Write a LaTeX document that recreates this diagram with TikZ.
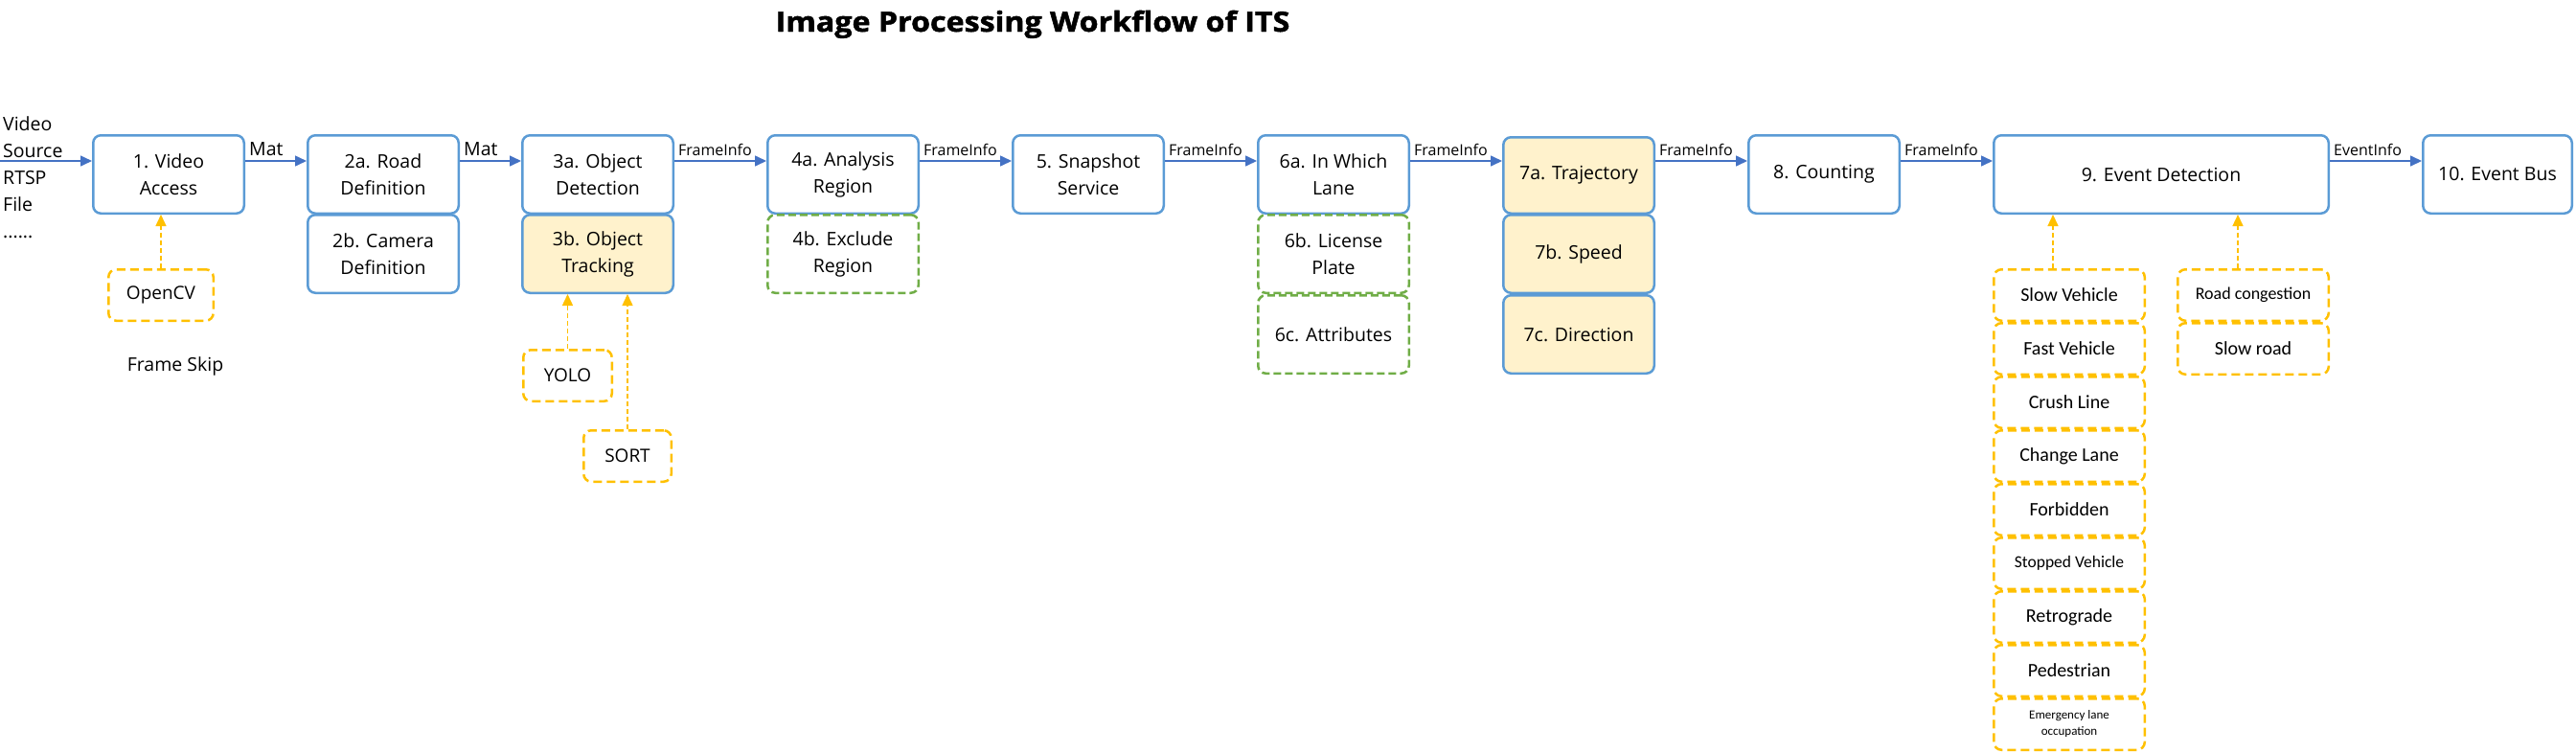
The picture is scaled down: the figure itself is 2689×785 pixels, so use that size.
\documentclass[tikz,border=0pt]{standalone}
\usepackage{fontspec}
\usepackage{graphicx}
\setmainfont{Open Sans}
\newfontfamily\calib{Carlito}
\newfontfamily\titlefont{Open Sans}[FakeBold=1.6]
\usetikzlibrary{arrows.meta}
\definecolor{bbord}{HTML}{5B9BD5}
\definecolor{barrow}{HTML}{4472C4}
\definecolor{yfill}{HTML}{FFF2CC}
\definecolor{ydash}{HTML}{FFC000}
\definecolor{gdash}{HTML}{70AD47}
\begin{document}
\begin{tikzpicture}[x=1pt,y=-1pt,
  box/.style={draw=bbord, line width=2.5pt, rounded corners=8pt, minimum width=157.5pt, minimum height=81.5pt, align=center, inner sep=2pt, font=\fontsize{19.5}{28}\selectfont},
  ybox/.style={box, fill=yfill},
  gbox/.style={box, draw=gdash, dash pattern=on 8pt off 4pt},
  dbox/.style={draw=ydash, line width=2.5pt, rounded corners=8pt, dash pattern=on 9pt off 5pt, align=center, inner sep=0pt, font=\fontsize{19}{24}\selectfont},
  ev/.style={dbox, minimum width=157.5pt, minimum height=53.5pt, font=\calib\fontsize{20}{24}\selectfont},
  flow/.style={draw=barrow, line width=1.5pt, -{Triangle[length=12pt,width=11pt]}},
  dflow/.style={draw=ydash, line width=1.5pt, dash pattern=on 5pt off 3pt, -{Triangle[length=12pt,width=11pt]}},
  lab/.style={anchor=base west, inner sep=0pt, font=\fontsize{16}{19}\selectfont},
  plain/.style={inner sep=0pt, font=\fontsize{19.5}{28}\selectfont},
]
\useasboundingbox (0,0) rectangle (2689,785);

% title
\node[anchor=base, inner sep=0pt, font=\titlefont\bfseries\fontsize{29}{34}\selectfont] (title) at (1078,33) {\scalebox{1.11}[1]{Image Processing Workflow of ITS}};

% source text
\node[plain, anchor=west, align=left] (srctxt) at (3,185) {Video\\Source\\RTSP\\File\\......};

% main boxes
\node[box] (b1) at (176,182) {1. Video\\Access};
\node[box] (b2a) at (400,182) {2a. Road\\Definition};
\node[box] (b2b) at (400,265) {2b. Camera\\Definition};
\node[box] (b3a) at (624,182) {3a. Object\\Detection};
\node[ybox] (b3b) at (624,265) {3b. Object\\Tracking};
\node[box] (b4a) at (880,182) {4a. Analysis\\Region};
\node[gbox] (b4b) at (880,265) {4b. Exclude\\Region};
\node[box] (b5) at (1136,182) {5. Snapshot\\Service};
\node[box] (b6a) at (1392,182) {6a. In Which\\Lane};
\node[gbox] (b6b) at (1392,265) {6b. License\\Plate};
\node[gbox] (b6c) at (1392,349) {6c. Attributes};
\node[ybox, minimum height=79.5pt] (b7a) at (1648,183) {7a. Trajectory};
\node[ybox] (b7b) at (1648,265) {7b. Speed};
\node[ybox] (b7c) at (1648,349) {7c. Direction};
\node[box] (b8) at (1904,182) {8. Counting};
\node[box, minimum width=349.5pt] (b9) at (2256,182) {9. Event Detection};
\node[box, minimum width=155.5pt] (b10) at (2607,182) {10. Event Bus};

% helper boxes
\node[dbox, minimum width=109.5pt, minimum height=53.5pt] (opencv) at (168,308) {OpenCV};
\node[plain, anchor=base] (fskip) at (183,387) {Frame Skip};
\node[dbox, minimum width=92.5pt, minimum height=53.5pt] (yolo) at (592.5,392) {YOLO};
\node[dbox, minimum width=91.5pt, minimum height=53.5pt] (sort) at (655,476) {SORT};

% event boxes
\node[ev] (e1) at (2160,308) {Slow Vehicle};
\node[ev] (e2) at (2160,364) {Fast Vehicle};
\node[ev] (e3) at (2160,420) {Crush Line};
\node[ev] (e4) at (2160,476) {Change Lane};
\node[ev] (e5) at (2160,532) {Forbidden};
\node[ev, font=\calib\fontsize{17.5}{21}\selectfont] (e6) at (2160,588) {Stopped Vehicle};
\node[ev] (e7) at (2160,644) {Retrograde};
\node[ev] (e8) at (2160,700) {Pedestrian};
\node[ev, font=\calib\fontsize{13}{17}\selectfont] (e9) at (2160,756) {Emergency lane\\occupation};
\node[ev, font=\calib\fontsize{18}{22}\selectfont] (r1) at (2352,308) {Road congestion};
\node[ev] (r2) at (2352,364) {Slow road};

% main flow
\coordinate (row) at (0,168);
\draw[flow] (row) -- (b1.west |- row);
\draw[flow] (b1.east |- row) -- (b2a.west |- row);
\draw[flow] (b2a.east |- row) -- (b3a.west |- row);
\draw[flow] (b3a.east |- row) -- (b4a.west |- row);
\draw[flow] (b4a.east |- row) -- (b5.west |- row);
\draw[flow] (b5.east |- row) -- (b6a.west |- row);
\draw[flow] (b6a.east |- row) -- (b7a.west |- row);
\draw[flow] (b7a.east |- row) -- (b8.west |- row);
\draw[flow] (b8.east |- row) -- (b9.west |- row);
\draw[flow] (b9.east |- row) -- (b10.west |- row);

% flow labels
\node[lab, font=\fontsize{19.5}{24}\selectfont] (l1) at ([xshift=4pt]b1.east |- 0,162) {Mat};
\node[lab, font=\fontsize{19.5}{24}\selectfont] (l2) at ([xshift=4pt]b2a.east |- 0,162) {Mat};
\node[lab] (l3) at ([xshift=4pt]b3a.east |- 0,162) {FrameInfo};
\node[lab] (l4) at ([xshift=4pt]b4a.east |- 0,162) {FrameInfo};
\node[lab] (l5) at ([xshift=4pt]b5.east |- 0,162) {FrameInfo};
\node[lab] (l6) at ([xshift=4pt]b6a.east |- 0,162) {FrameInfo};
\node[lab] (l7) at ([xshift=4pt]b7a.east |- 0,162) {FrameInfo};
\node[lab] (l8) at ([xshift=4pt]b8.east |- 0,162) {FrameInfo};
\node[lab] (l9) at ([xshift=4pt]b9.east |- 0,162) {EventInfo};

% dashed helper arrows
\draw[dflow] (opencv.north) -- (opencv.north |- b1.south);
\draw[dflow] (yolo.north) -- (yolo.north |- b3b.south);
\draw[dflow] (sort.north) -- (sort.north |- b3b.south);
\draw[dflow] ([xshift=-17pt]e1.north) -- ([xshift=-17pt]e1.north |- b9.south);
\draw[dflow] ([xshift=-16pt]r1.north) -- ([xshift=-16pt]r1.north |- b9.south);
\end{tikzpicture}
\end{document}
